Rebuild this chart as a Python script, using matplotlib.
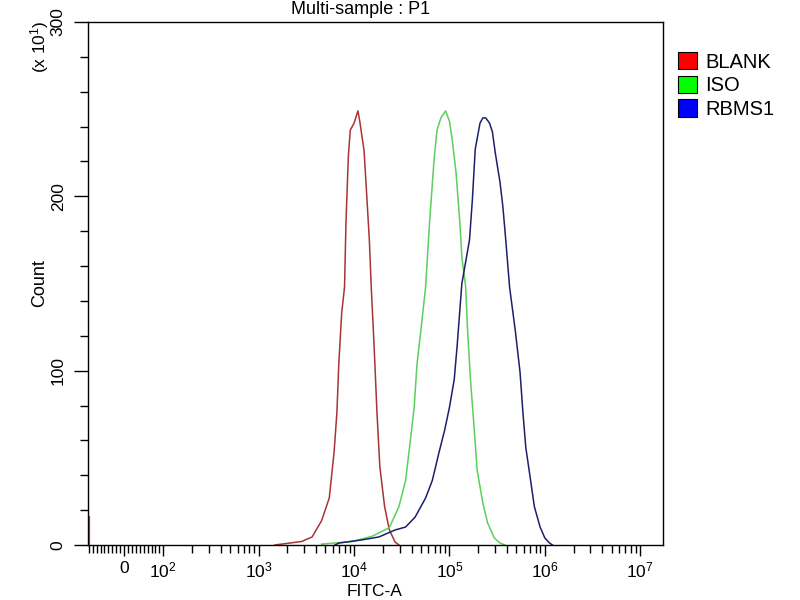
"""Flow cytometry overlay: BLANK / ISO / RBMS1 on FITC-A."""
import matplotlib
matplotlib.use("Agg")
import matplotlib.pyplot as plt
from matplotlib.patches import Patch
import numpy as np

plt.rcParams["font.family"] = ["Liberation Sans", "DejaVu Sans"]
plt.rcParams["mathtext.fontset"] = "custom"
plt.rcParams["mathtext.rm"] = "Liberation Sans"
plt.rcParams["mathtext.it"] = "Liberation Sans"

# curves: log10(FITC-A) and count (x10)
BLANK_LOG = [3.17, 3.45, 3.56, 3.66, 3.74, 3.79, 3.82, 3.84, 3.87, 3.90, 3.915, 3.94, 3.96, 4.00,
             4.04, 4.06, 4.105, 4.13, 4.16, 4.18, 4.21, 4.24, 4.27, 4.32, 4.37, 4.43, 4.47]
BLANK_CNT = [0, 2, 4.6, 14, 27, 53, 76, 104, 133, 148, 185, 223, 238, 242,
             249, 243, 226, 203, 175, 148, 114, 76, 45, 22, 8.6, 1.7, 0]
ISO_LOG = [3.66, 3.98, 4.19, 4.37, 4.47, 4.54, 4.59, 4.63, 4.66, 4.70, 4.75, 4.79, 4.84, 4.87,
           4.91, 4.96, 5.00, 5.03, 5.07, 5.11, 5.13, 5.17, 5.19, 5.22, 5.26, 5.29, 5.35, 5.40,
           5.47, 5.53, 5.58]
ISO_CNT = [0.5, 2, 5, 10, 22, 37, 60, 79, 104, 123, 148, 184, 222, 238,
           245, 249, 243, 232, 213, 184, 165, 148, 123, 95, 66, 43, 24, 12.6,
           4, 1.1, 0]
RBMS1_LOG = [3.80, 3.84, 4.08, 4.26, 4.43, 4.54, 4.64, 4.75, 4.82, 4.89, 4.95, 5.00, 5.05, 5.08,
             5.13, 5.21, 5.24, 5.27, 5.32, 5.35, 5.38, 5.42, 5.45, 5.48, 5.53, 5.56, 5.59, 5.63,
             5.69, 5.74, 5.77, 5.80, 5.84, 5.89, 5.95, 6.00, 6.05, 6.08]
RBMS1_CNT = [0, 1.1, 2.9, 4.6, 8.6, 10.3, 16, 27, 37, 53, 66, 79, 95, 114,
             150, 175, 198, 227, 242, 245, 245, 242, 237, 225, 208, 194, 175, 148,
             123, 99, 76, 56, 41, 22, 10.3, 4, 1.1, 0]
# pile-up of BLANK events at the lower edge
EDGE_X = [-90, -90]
EDGE_CNT = [0, 16]

NAMES = ["BLANK", "ISO", "RBMS1"]
LINE_COL = {"BLANK": "#a83434", "ISO": "#5ccf5c", "RBMS1": "#1c1f6a"}
PATCH_COL = {"BLANK": "#ff0000", "ISO": "#00ff00", "RBMS1": "#0000ff"}

FS = 12.5

fig = plt.figure(figsize=(8, 6), dpi=100)
ax = fig.add_axes([0.11, 0.0917, 0.719, 0.8716])

curves = {"BLANK": (BLANK_LOG, BLANK_CNT), "ISO": (ISO_LOG, ISO_CNT),
          "RBMS1": (RBMS1_LOG, RBMS1_CNT)}
ax.plot(EDGE_X, EDGE_CNT, color="#e03030", lw=1.6)
for n in NAMES:
    lx, cnt = curves[n]
    ax.plot(10 ** np.array(lx), cnt, color=LINE_COL[n], lw=1.1)

ax.set_xscale("symlog", base=10, linthresh=100, linscale=0.37)
ax.set_xlim(-92, 1.74e7)
ax.set_ylim(0, 300)

major = [0, 1e2, 1e3, 1e4, 1e5, 1e6, 1e7]
ax.set_xticks(major)
ax.set_xticklabels(["0"] + ["$10^{%d}$" % k for k in range(2, 8)], fontsize=FS)
minor = [v for v in range(-90, 100, 10) if v != 0]
minor += [m * 10 ** k for k in range(2, 7) for m in range(2, 10)]
ax.set_xticks(minor, minor=True)
ax.tick_params(axis="x", which="major", length=8, width=1, pad=3.5)
ax.tick_params(axis="x", which="minor", length=5.5, width=1)

ax.set_yticks([0, 100, 200, 300])
ax.set_yticklabels(["0", "100", "200", "300"], rotation=90, va="center", fontsize=FS)
ax.set_yticks(range(0, 301, 20), minor=True)
ax.tick_params(axis="y", which="major", length=10, width=1, pad=6)
ax.tick_params(axis="y", which="minor", length=6, width=1)

for s in ax.spines.values():
    s.set_linewidth(1)

fig.text(375 / 800, 1 - 592 / 600, "FITC-A", ha="center", va="center", fontsize=FS)
fig.text(40 / 800, 1 - 283 / 600, "Count", rotation=90, ha="center", va="center", fontsize=13)
fig.text(361 / 800, 1 - 9 / 600, "Multi-sample : P1", ha="center", va="center", fontsize=13)
fig.text(40 / 800, 1 - 47 / 600, "(x 10$^{1}$)", rotation=90, ha="center", va="center",
         fontsize=FS)

handles = [Patch(facecolor=PATCH_COL[n], edgecolor="black", lw=0.8, label=n) for n in NAMES]
fig.legend(handles=handles, loc="upper left", bbox_to_anchor=(678 / 800, 1 - 52 / 600),
           frameon=False, fontsize=14.5, handlelength=0.95, handleheight=0.95,
           handletextpad=0.4, labelspacing=0.2, borderpad=0, borderaxespad=0)

fig.savefig("out.png", dpi=100)
